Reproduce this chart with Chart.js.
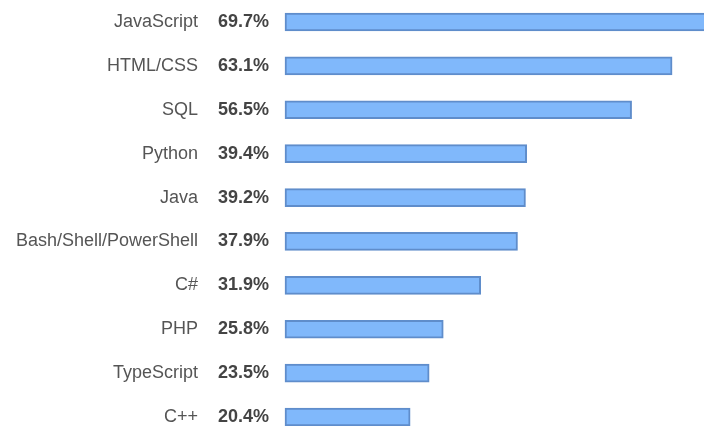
<!DOCTYPE html>
<html lang="en">
<head>
  <meta charset="UTF-8" />
  <title>Most popular technologies</title>
  <script src="https://cdn.jsdelivr.net/npm/chart.js"></script>
  <style>
    html, body { margin: 0; padding: 0; background: #fff; }
    #wrap { width: 704px; height: 426px; }
  </style>
</head>
<body>
  <div id="wrap">
    <canvas id="langChart" width="704" height="426"></canvas>
  </div>

  <script>
    // languages and share of respondents (%)
    const languages = ["JavaScript", "HTML/CSS", "SQL", "Python", "Java", "Bash/Shell/PowerShell", "C#", "PHP", "TypeScript", "C++"];
    const shares = [69.7, 63.1, 56.5, 39.4, 39.2, 37.9, 31.9, 25.8, 23.5, 20.4];

    const fontFamily = "'Liberation Sans', Arial, sans-serif";

    // names and percentages to the left of the plot area, one per bar
    const rowLabels = {
      id: "rowLabels",
      afterDraw(chart) {
        const ctx = chart.ctx;
        const yScale = chart.scales.y;
        const left = chart.chartArea.left;
        ctx.save();
        ctx.textAlign = "right";
        ctx.textBaseline = "middle";
        languages.forEach((name, i) => {
          const y = yScale.getPixelForValue(i);
          ctx.font = "18px " + fontFamily;
          ctx.fillStyle = "#555";
          ctx.fillText(name, left - 87, y);
          ctx.font = "bold 18px " + fontFamily;
          ctx.fillStyle = "#444";
          ctx.fillText(shares[i].toFixed(1) + "%", left - 16, y);
        });
        ctx.restore();
      }
    };

    const ctx = document.getElementById("langChart").getContext("2d");
    new Chart(ctx, {
      type: "bar",
      data: {
        labels: languages,
        datasets: [{
          data: shares,
          backgroundColor: "#80b8fb",
          borderColor: "#5f8dcb",
          borderWidth: 2,
          borderSkipped: false,
          barThickness: 18,
          clip: false
        }]
      },
      options: {
        indexAxis: "y",
        responsive: false,
        animation: false,
        layout: { padding: { top: 22, bottom: 9, left: 285, right: 0 } },
        plugins: {
          legend: { display: false },
          tooltip: { enabled: false }
        },
        scales: {
          x: { display: false, min: 0, max: 68.3 },
          y: { display: false, offset: false }
        }
      },
      plugins: [rowLabels]
    });
  </script>
</body>
</html>
